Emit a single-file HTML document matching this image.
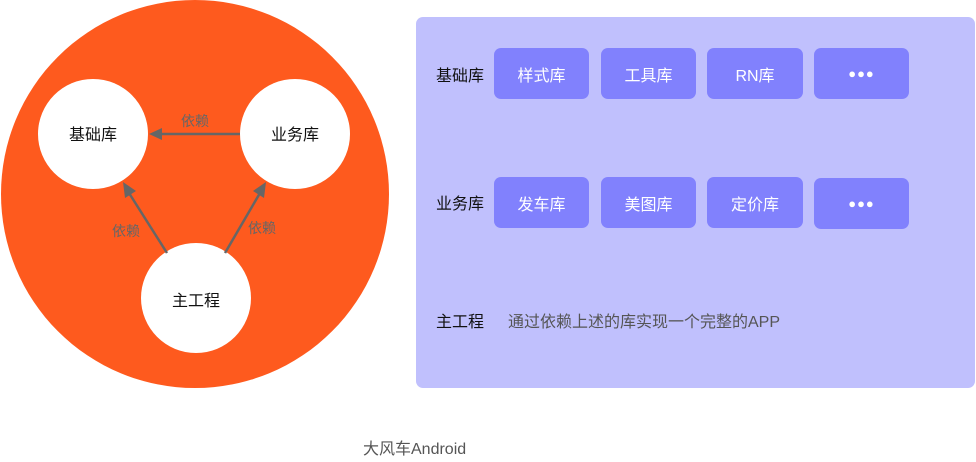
<!DOCTYPE html>
<html><head><meta charset="utf-8"><style>
body{margin:0;width:976px;height:462px;background:#fff;overflow:hidden;position:relative;font-family:"Liberation Sans","Noto Sans CJK SC",sans-serif}
.p{position:absolute;left:416px;top:17px;width:559px;height:371px;background:#c0c0fd;border-radius:7px}
.b{position:absolute;width:95px;height:51px;background:#8181fd;border-radius:7px;color:#fff;font-size:16px;display:flex;align-items:center;justify-content:center}
.d{font-size:13px;letter-spacing:1px}
.l{position:absolute;font-size:16px;color:#111}
</style></head><body>
<svg width="400" height="400" style="position:absolute;left:0;top:0">
<circle cx="195" cy="194" r="194" fill="#fe5a1e"/>
<circle cx="93" cy="134" r="55" fill="#fff"/>
<circle cx="295" cy="134" r="55" fill="#fff"/>
<circle cx="196" cy="298" r="55" fill="#fff"/>
<g stroke="#666" stroke-width="2.5" fill="#666">
<line x1="240" y1="134" x2="160" y2="134"/>
<line x1="167" y1="253" x2="129" y2="193"/>
<line x1="225" y1="253" x2="260" y2="193"/>
</g>
<g fill="#666">
<polygon points="149,134 162,128 162,140"/>
<polygon points="123,182 125,198 136,191"/>
<polygon points="266,182 253,191 264,198"/>
</g>
<g font-size="16" fill="#111" text-anchor="middle">
<text x="93" y="140">基础库</text><text x="295" y="140">业务库</text><text x="196" y="306">主工程</text>
</g>
<g font-size="14" fill="#666" text-anchor="middle">
<text x="195" y="126">依赖</text><text x="126" y="236">依赖</text><text x="262" y="233">依赖</text>
</g>
</svg>
<div class="p"></div>
<div class="l" style="left:436px;top:62px">基础库</div>
<div class="l" style="left:436px;top:190px">业务库</div>
<div class="l" style="left:436px;top:308px">主工程</div>
<div class="l" style="left:508px;top:308px;color:#555">通过依赖上述的库实现一个完整的APP</div>
<div class="b" style="left:494px;top:48px">样式库</div>
<div class="b" style="left:601px;top:48px">工具库</div>
<div class="b" style="left:707px;top:48px;width:96px">RN库</div>
<div class="b d" style="left:814px;top:48px">●●●</div>
<div class="b" style="left:494px;top:177px">发车库</div>
<div class="b" style="left:601px;top:177px">美图库</div>
<div class="b" style="left:707px;top:177px;width:96px">定价库</div>
<div class="b d" style="left:814px;top:178px">●●●</div>
<div class="l" style="left:363px;top:435px;color:#555">大风车Android</div>
</body></html>
